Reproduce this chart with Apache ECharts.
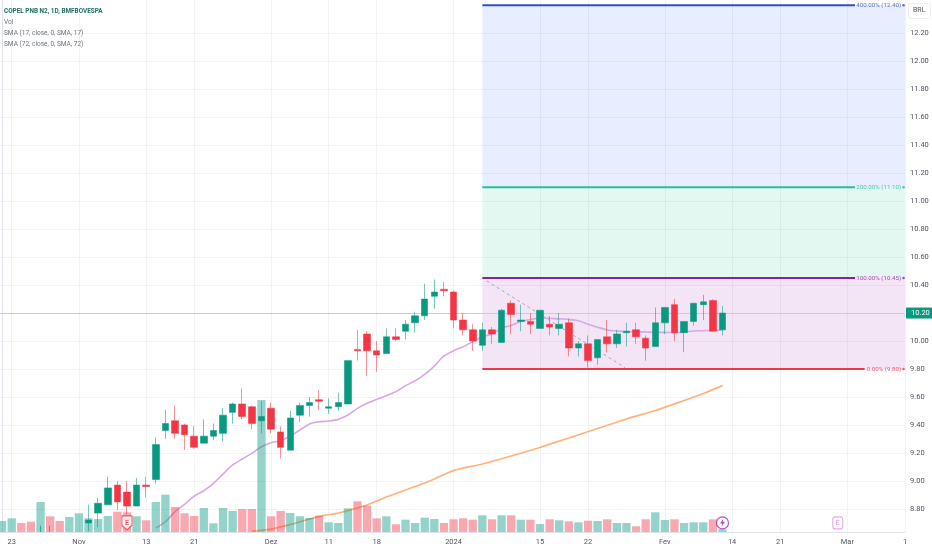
<!DOCTYPE html>
<html>
<head>
<meta charset="utf-8">
<style>html,body{margin:0;padding:0;background:#fff}#c{width:932px;height:550px}</style>
<script src="https://cdn.jsdelivr.net/npm/echarts@6/dist/echarts.min.js"></script>
</head>
<body>
<div id="c"></div>
<script>
// bar index of each x-axis tick label
const xTickIdx = [1, 8, 15, 20, 28, 34, 39, 47, 56, 61, 69, 76, 81, 88, 94];
const xTickLabels = ['23', 'Nov', '13', '21', 'Dez', '11', '18', '2024', '15', '22', 'Fev', '14', '21', 'Mar', '1'];
const priceTicks = [8.8, 9.0, 9.2, 9.4, 9.6, 9.8, 10.0, 10.2, 10.4, 10.6, 10.8, 11.0, 11.2, 11.4, 11.6, 11.8, 12.0, 12.2];
const legendTitle = 'COPEL PNB N2, 1D, BMFBOVESPA';
const legendRows = ['Vol', 'SMA (17, close, 0, SMA, 17)', 'SMA (72, close, 0, SMA, 72)'];

// [barIndex, open, close, low, high]
const candles = [
  [9, 8.70, 8.72, 8.64, 8.83], [10, 8.77, 8.84, 8.67, 8.88], [11, 8.83, 8.95, 8.83, 9.03],
  [12, 8.97, 8.85, 8.79, 9.00], [13, 8.92, 8.82, 8.76, 9.00], [14, 8.82, 8.97, 8.82, 9.02],
  [15, 8.97, 8.96, 8.88, 9.03], [16, 9.01, 9.26, 8.98, 9.31], [17, 9.36, 9.41, 9.30, 9.51],
  [18, 9.43, 9.34, 9.30, 9.54], [19, 9.40, 9.33, 9.22, 9.41], [20, 9.32, 9.24, 9.23, 9.39],
  [21, 9.27, 9.32, 9.27, 9.44], [22, 9.32, 9.36, 9.29, 9.41], [23, 9.34, 9.47, 9.28, 9.52],
  [24, 9.49, 9.55, 9.41, 9.56], [25, 9.55, 9.46, 9.44, 9.66], [26, 9.53, 9.41, 9.37, 9.54],
  [27, 9.43, 9.46, 9.34, 9.57], [28, 9.52, 9.37, 9.34, 9.56], [29, 9.35, 9.24, 9.16, 9.39],
  [30, 9.22, 9.45, 9.22, 9.50], [31, 9.47, 9.54, 9.42, 9.56], [32, 9.54, 9.56, 9.46, 9.60],
  [33, 9.58, 9.57, 9.51, 9.65], [34, 9.52, 9.53, 9.48, 9.59], [35, 9.53, 9.56, 9.50, 9.63],
  [36, 9.55, 9.86, 9.55, 9.86], [37, 9.94, 9.93, 9.86, 10.08], [38, 10.05, 9.93, 9.75, 10.07],
  [39, 9.93, 9.90, 9.78, 10.00], [40, 9.91, 10.03, 9.91, 10.09], [41, 10.03, 10.01, 10.00, 10.09],
  [42, 10.07, 10.12, 10.01, 10.15], [43, 10.13, 10.18, 10.06, 10.21], [44, 10.18, 10.30, 10.15, 10.41],
  [45, 10.32, 10.35, 10.23, 10.44], [46, 10.37, 10.36, 10.32, 10.42], [47, 10.35, 10.15, 10.09, 10.36],
  [48, 10.15, 10.08, 10.04, 10.20], [49, 10.08, 10.00, 9.93, 10.12], [50, 9.97, 10.08, 9.93, 10.13],
  [51, 10.08, 10.05, 9.98, 10.10], [52, 9.99, 10.22, 9.99, 10.23], [53, 10.27, 10.19, 10.05, 10.29],
  [54, 10.14, 10.15, 10.07, 10.26], [55, 10.14, 10.12, 10.05, 10.20], [56, 10.09, 10.22, 10.09, 10.22],
  [57, 10.12, 10.10, 10.04, 10.18], [58, 10.09, 10.12, 10.04, 10.20], [59, 10.13, 9.95, 9.89, 10.16],
  [60, 9.95, 9.98, 9.89, 10.00], [61, 9.98, 9.86, 9.81, 10.04], [62, 9.88, 10.01, 9.83, 10.01],
  [63, 10.03, 9.98, 9.92, 10.15], [64, 9.98, 10.05, 9.95, 10.08], [65, 10.06, 10.07, 9.96, 10.13],
  [66, 10.08, 10.03, 9.98, 10.13], [67, 10.02, 9.95, 9.86, 10.04], [68, 9.96, 10.13, 9.96, 10.24],
  [69, 10.13, 10.24, 10.05, 10.24], [70, 10.26, 10.06, 10.00, 10.30], [71, 10.06, 10.14, 9.92, 10.14],
  [72, 10.14, 10.27, 10.11, 10.27], [73, 10.26, 10.28, 10.15, 10.33], [74, 10.29, 10.07, 10.07, 10.30],
  [75, 10.08, 10.20, 10.04, 10.25]
];
// two sessions whose bodies lie below the visible range: only the tip of the upper wick shows
const lowSessionsUp = [[4, 8.635, 8.635, 8.635, 8.68]];
const lowSessionsDown = [[5, 8.635, 8.635, 8.635, 8.68]];

// volume in millions, bar index = position in the list
const volumes = [1.1, 1.37, 0.9, 1.03, 3.0, 1.57, 1.1, 1.5, 1.87, 1.37, 1.3, 1.6, 2.03, 1.97, 1.57, 1.17, 3.0, 3.73, 2.5,
  1.87, 1.6, 2.4, 0.87, 2.4, 2.1, 2.3, 2.3, 13.2, 1.57, 2.1, 1.9, 1.57, 1.4, 1.63, 0.97, 0.9, 2.37, 3.07, 2.63, 1.37,
  1.57, 0.77, 1.23, 0.9, 1.43, 1.3, 0.9, 1.27, 1.37, 1.23, 1.67, 1.27, 1.67, 1.67, 1.23, 1.23, 0.8, 1.27, 1.17, 1.07,
  0.97, 1.13, 1.1, 1.27, 0.9, 0.9, 0.57, 1.27, 1.97, 1.2, 1.27, 0.9, 0.97, 0.97, 1.27, 0.27];
const volumeUp = [1, 1, 0, 0, 1, 0, 0, 1, 1, 1, 1, 1, 0, 0, 1, 0, 1, 1, 0, 0, 0, 1, 1, 1, 1, 0, 0, 1, 0, 0, 1, 1, 1, 0, 1, 1, 1, 0, 0, 0,
  1, 0, 1, 1, 1, 1, 0, 0, 0, 0, 1, 0, 1, 0, 1, 0, 1, 0, 1, 0, 1, 0, 1, 0, 1, 1, 0, 0, 1, 1, 0, 1, 1, 1, 0, 1];

// [barIndex, value]
const sma17 = [[16, 8.663], [17, 8.708], [18, 8.78], [19, 8.833], [20, 8.892], [21, 8.93], [22, 8.983], [23, 9.049],
  [24, 9.114], [25, 9.157], [26, 9.197], [27, 9.244], [28, 9.273], [29, 9.287], [30, 9.321], [31, 9.364], [32, 9.407],
  [33, 9.423], [34, 9.428], [35, 9.44], [36, 9.471], [37, 9.519], [38, 9.555], [39, 9.583], [40, 9.609], [41, 9.638],
  [42, 9.681], [43, 9.716], [44, 9.762], [45, 9.821], [46, 9.893], [47, 9.931], [48, 9.959], [49, 9.995], [50, 10.031],
  [51, 10.05], [52, 10.093], [53, 10.111], [54, 10.14], [55, 10.154], [56, 10.165], [57, 10.163], [58, 10.158], [59, 10.155],
  [60, 10.145], [61, 10.12], [62, 10.098], [63, 10.079], [64, 10.072], [65, 10.067], [66, 10.067], [67, 10.065], [68, 10.062],
  [69, 10.062], [70, 10.06], [71, 10.065], [72, 10.072], [73, 10.074], [74, 10.077], [75, 10.079]];
const sma72 = [[26, 8.642], [28, 8.656], [30, 8.688], [31, 8.708], [33, 8.747], [35, 8.77], [36, 8.788], [38, 8.828],
  [40, 8.885], [42, 8.935], [44, 8.985], [45, 9.014], [47, 9.074], [50, 9.121], [53, 9.178], [56, 9.239], [59, 9.307],
  [62, 9.375], [65, 9.443], [68, 9.503], [71, 9.575], [73, 9.625], [75, 9.681]];

const fibLevels = [
  { price: 9.80, text: '0.00% (9.80)', color: '#F23645', lineEnd: 89.8 },
  { price: 10.45, text: '100.00% (10.45)', color: '#8E1FA3', lineEnd: 88.8 },
  { price: 11.10, text: '200.00% (11.10)', color: '#22C09A', lineEnd: 88.8 },
  { price: 12.40, text: '400.00% (12.40)', color: '#2F4FC4', lineEnd: 88.8 }
];
const fibZones = [
  [9.80, 10.45, 'rgba(156,39,176,0.12)'],
  [10.45, 11.10, 'rgba(8,191,140,0.11)'],
  [11.10, 12.40, 'rgba(41,98,255,0.11)']
];
const fibStartIdx = 50, fibLabelIdx = 93.6, fibDotIdx = 93.85, axisEndIdx = 94, axisStartIdx = -0.22;
const trendLine = [[50.45, 10.43], [64.85, 9.81]];
const lastPrice = 10.20;
const priceMin = 8.6349, priceMax = 12.4376, volumeMax = 53.2;
const earningsPast = [13, 8.70], dividendMark = [75, 8.70], earningsNext = [87, 8.70];

const UP = '#089981', DOWN = '#F23645';
const FONT = '"Liberation Sans Narrow", Roboto, sans-serif';

const chart = echarts.init(document.getElementById('c'), null, { renderer: 'canvas' });

const fibSeries = fibLevels.map((f, i) => ({
  type: 'line', xAxisIndex: 0, yAxisIndex: 0, z: 5, silent: true, symbol: 'none', animation: false,
  lineStyle: { color: f.color, width: 2 },
  data: [[fibStartIdx, f.price], [f.lineEnd, f.price]],
  markArea: fibZones[i] ? {
    silent: true, z: 1, animation: false,
    itemStyle: { color: fibZones[i][2] },
    data: [[{ coord: [fibStartIdx, fibZones[i][0]] }, { coord: [axisEndIdx, fibZones[i][1]] }]]
  } : undefined
}));

const fibLabelSeries = {
  type: 'scatter', xAxisIndex: 0, yAxisIndex: 0, z: 6, silent: true, animation: false, clip: false,
  symbolSize: 0,
  data: fibLevels.flatMap(f => ([
    {
      value: [fibLabelIdx, f.price], symbolSize: 0,
      label: { show: true, position: 'left', distance: 0, formatter: f.text, color: f.color, fontSize: 6.2, fontFamily: FONT }
    },
    { value: [fibDotIdx, f.price], symbolSize: 2.5, itemStyle: { color: f.color } }
  ]))
};

const candleStyle = {
  color: UP, color0: DOWN,
  borderColor: 'rgba(8,153,129,0.55)', borderColor0: 'rgba(242,54,69,0.55)', borderWidth: 1
};

const option = {
  animation: false,
  backgroundColor: '#ffffff',
  grid: { left: 0, top: 0, right: 27, bottom: 18, containLabel: false },
  xAxis: {
    type: 'value', min: axisStartIdx, max: axisEndIdx,
    axisLine: { show: true, onZero: false, lineStyle: { color: '#E0E3EB', width: 1 } },
    axisTick: { show: false, customValues: xTickIdx },
    splitLine: { show: true, lineStyle: { color: '#F2F3F6', width: 1 } },
    axisLabel: {
      customValues: xTickIdx, color: '#4F5560', fontSize: 7.5, fontFamily: FONT, margin: 6,
      showMinLabel: true, showMaxLabel: true,
      formatter: v => xTickLabels[xTickIdx.indexOf(v)]
    }
  },
  yAxis: [
    {
      type: 'value', position: 'right', min: priceMin, max: priceMax, scale: true,
      axisLine: { show: true, lineStyle: { color: '#E0E3EB', width: 1 } },
      axisTick: { show: false, customValues: priceTicks },
      splitLine: { show: true, lineStyle: { color: '#F2F3F6', width: 1 } },
      axisLabel: {
        customValues: priceTicks, color: '#4F5560', fontSize: 7.5, fontFamily: FONT, margin: 5,
        formatter: v => v.toFixed(2)
      }
    },
    { type: 'value', min: 0, max: volumeMax, show: false, splitLine: { show: false } }
  ],
  series: [
    ...fibSeries,
    {
      type: 'line', z: 2, symbol: 'none', smooth: 0.25, silent: true, data: sma17,
      lineStyle: { color: '#D7A8E2', width: 1.6 }
    },
    {
      type: 'line', z: 2, symbol: 'none', smooth: 0.25, silent: true, data: sma72,
      lineStyle: { color: '#FFB27A', width: 1.7 }
    },
    {
      type: 'bar', yAxisIndex: 1, z: 3, barWidth: 8.3, silent: true,
      data: volumes.map((v, i) => ({
        value: [i, v],
        itemStyle: { color: volumeUp[i] ? 'rgba(8,153,129,0.43)' : 'rgba(242,54,69,0.43)' }
      }))
    },
    {
      type: 'line', z: 4, symbol: 'none', silent: true, data: trendLine,
      lineStyle: { color: '#A6A9B2', width: 1, type: [3, 3] }
    },
    {
      type: 'candlestick', z: 4, barWidth: 0, silent: true,
      encode: { x: 0, y: [1, 2, 3, 4] },
      data: lowSessionsUp,
      itemStyle: { color: UP, color0: UP, borderColor: 'rgba(8,153,129,0.75)', borderColor0: 'rgba(8,153,129,0.75)', borderWidth: 1 }
    },
    {
      type: 'candlestick', z: 4, barWidth: 0, silent: true,
      encode: { x: 0, y: [1, 2, 3, 4] },
      data: lowSessionsDown,
      itemStyle: { color: DOWN, color0: DOWN, borderColor: 'rgba(242,54,69,0.75)', borderColor0: 'rgba(242,54,69,0.75)', borderWidth: 1 }
    },
    {
      type: 'candlestick', z: 4, barWidth: 7, silent: true,
      encode: { x: 0, y: [1, 2, 3, 4] },
      data: candles,
      itemStyle: candleStyle,
      markLine: {
        silent: true, symbol: 'none', animation: false, z: 4,
        lineStyle: { color: '#B5D6D1', width: 1, type: 'solid' },
        label: {
          show: true, position: 'end', formatter: lastPrice.toFixed(2), distance: 1,
          color: '#fff', backgroundColor: UP, fontSize: 7.5, fontFamily: FONT,
          padding: [2, 5, 1, 5]
        },
        data: [{ yAxis: lastPrice }]
      }
    },
    fibLabelSeries,
    {
      type: 'scatter', z: 7, silent: true, clip: false,
      data: [{
        value: earningsPast,
        symbol: 'path://M0,0 H10 V9.5 L5,14 L0,9.5 Z', symbolSize: [10, 14],
        itemStyle: { color: '#fff', borderColor: DOWN, borderWidth: 1.2 },
        label: { show: true, formatter: 'E', color: DOWN, fontSize: 7, fontFamily: FONT, fontWeight: 'bold', position: 'inside' }
      }, {
        value: dividendMark,
        symbol: 'circle', symbolSize: 12,
        itemStyle: { color: '#fff', borderColor: '#9C27B0', borderWidth: 1.2 }
      }, {
        value: dividendMark,
        symbol: 'path://M6,0 L1,8 H4.5 L3,14 L9,5 H5.5 Z', symbolSize: [5, 8],
        itemStyle: { color: '#9C27B0' }
      }, {
        value: earningsNext,
        symbol: 'roundRect', symbolSize: [10, 12],
        itemStyle: { color: '#fff', borderColor: '#D998E4', borderWidth: 1.2 },
        label: { show: true, formatter: 'E', color: '#C76BD8', fontSize: 7, fontFamily: FONT, position: 'inside' }
      }]
    }
  ],
  graphic: [
    { type: 'text', x: 4, y: 7, scaleX: 0.85, z: 100, style: { text: legendTitle, fill: '#1F6F64', font: 'bold 7.5px ' + FONT } },
    ...legendRows.map((t, i) => ({
      type: 'text', x: 4, y: 18 + i * 11.3, scaleX: 0.87, z: 100, style: { text: t, fill: '#6F747C', font: '7.5px ' + FONT }
    })),
    {
      type: 'rect', left: 908, top: 3, z: 100,
      shape: { width: 22, height: 15, r: 2 },
      style: { fill: '#fff', stroke: '#ECEEF2', lineWidth: 1 }
    },
    { type: 'text', left: 913, top: 7, z: 101, style: { text: 'BRL', fill: '#4F5560', font: '7px ' + FONT } }
  ]
};
chart.setOption(option);
</script>
</body>
</html>
